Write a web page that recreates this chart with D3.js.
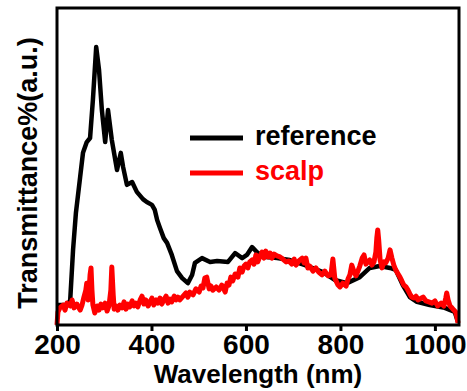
<!DOCTYPE html>
<html>
<head>
<meta charset="utf-8">
<script src="https://cdn.jsdelivr.net/npm/d3@7"></script>
<style>
  body { margin: 0; background: #fff; }
  svg text { font-family: "Liberation Sans", Arial, sans-serif; font-weight: bold; }
</style>
</head>
<body>
<div id="chart"></div>
<script>
// reference spectrum (nm, a.u.)
const refWave = [200, 223, 228, 234, 240, 249, 255, 263, 270, 276, 283, 289, 295, 302, 308, 316, 327, 335, 340, 348,
  359, 369, 382, 390, 401, 407, 412, 418, 426, 433, 443, 454, 465, 477, 486, 492, 507, 524, 539, 562,
  577, 592, 602, 613, 623, 636, 666, 693, 725, 763, 788, 814, 841, 862, 883, 905, 917, 932, 947, 962,
  989, 1021, 1042, 1049];
const refVal = [6.3, 6.3, 7.9, 23.7, 35.3, 46.7, 54.3, 57.7, 59.0, 71.0, 87.7, 80.4, 67.8, 57.7, 67.8, 58.4, 48.9, 54.3, 49.8, 44.2,
  45.1, 42.0, 39.7, 38.8, 37.9, 36.3, 33.1, 30.6, 27.4, 25.9, 22.1, 17.0, 14.8, 13.2, 15.8, 19.6, 21.1, 19.9, 20.2, 19.9,
  22.7, 21.1, 22.1, 24.6, 23.0, 21.5, 21.1, 20.5, 18.9, 16.7, 14.2, 13.2, 15.1, 18.0, 18.6, 18.0, 17.4, 12.6, 8.8, 7.3,
  6.3, 5.4, 4.1, 0.9];

// scalp spectrum (nm, a.u.)
const scalpWave = [200, 202, 206, 213, 217, 221, 228, 232, 236, 242, 249, 253, 257, 261, 263, 266, 268, 270, 272, 274,
  276, 280, 285, 289, 293, 297, 302, 306, 310, 314, 316, 319, 321, 325, 329, 333, 338, 342, 346, 350,
  354, 359, 363, 367, 371, 376, 380, 384, 388, 393, 397, 401, 405, 410, 414, 418, 422, 426, 431, 435,
  439, 443, 448, 452, 456, 460, 467, 473, 477, 481, 488, 494, 501, 505, 509, 513, 517, 522, 526, 530,
  537, 543, 549, 556, 560, 564, 568, 572, 577, 583, 587, 592, 596, 600, 604, 608, 613, 617, 621, 625,
  630, 634, 638, 642, 647, 651, 655, 659, 666, 672, 678, 685, 691, 697, 702, 706, 712, 719, 723, 727,
  731, 735, 742, 748, 754, 761, 767, 774, 780, 784, 788, 795, 799, 805, 812, 816, 820, 824, 829, 833,
  837, 841, 846, 850, 854, 858, 862, 867, 871, 875, 877, 879, 881, 884, 888, 892, 896, 901, 905, 909,
  913, 917, 922, 926, 930, 934, 939, 943, 947, 951, 956, 960, 964, 968, 975, 981, 987, 994, 1000, 1006,
  1013, 1019, 1023, 1025, 1028, 1032, 1036, 1040, 1044, 1047, 1049];
const scalpVal = [0, 4.1, 5.4, 6.3, 4.7, 6.9, 6.0, 7.9, 5.4, 6.6, 4.7, 6.3, 8.8, 11.0, 13.2, 7.9, 11.0, 15.8, 18.0, 11.0,
  6.3, 3.8, 6.0, 4.7, 6.6, 5.4, 6.9, 4.4, 6.0, 11.0, 18.3, 9.5, 5.0, 6.0, 4.7, 6.3, 5.4, 7.3, 5.0, 6.6,
  5.7, 7.6, 6.0, 6.9, 5.7, 7.9, 9.1, 6.6, 7.9, 6.0, 7.3, 8.5, 6.3, 7.9, 6.9, 8.5, 6.6, 7.9, 9.1, 6.9,
  8.2, 7.3, 9.1, 7.9, 8.8, 7.9, 9.1, 10.1, 8.8, 10.4, 9.5, 11.4, 10.4, 12.3, 11.7, 14.8, 15.1, 11.4, 12.3, 11.0,
  12.0, 11.0, 12.6, 10.4, 13.2, 12.6, 15.1, 13.9, 16.1, 15.1, 18.0, 16.7, 18.6, 19.2, 18.0, 19.9, 20.5, 19.2, 22.1, 19.9,
  21.8, 23.0, 21.1, 23.3, 21.5, 22.7, 21.1, 22.4, 21.8, 21.5, 20.8, 19.9, 20.2, 19.2, 20.8, 18.9, 20.2, 21.1, 19.6, 21.1,
  18.0, 18.6, 17.0, 18.0, 16.7, 15.8, 17.0, 15.5, 15.8, 20.8, 14.8, 12.6, 12.0, 13.2, 12.3, 14.5, 15.8, 18.9, 16.7, 15.5,
  17.0, 18.6, 21.1, 22.1, 19.2, 19.9, 20.5, 18.9, 19.9, 23.0, 27.4, 30.0, 26.8, 20.5, 18.0, 19.9, 19.6, 21.1, 23.7, 21.1,
  18.9, 17.4, 16.1, 15.1, 13.9, 12.6, 12.0, 11.0, 9.8, 8.8, 8.5, 9.1, 7.9, 8.2, 8.8, 7.6, 7.3, 6.9, 7.6, 6.0,
  6.9, 6.0, 8.5, 10.1, 7.9, 6.0, 5.4, 4.7, 4.1, 2.2, 0.6];

const xTicks = [200, 400, 600, 800, 1000];
const legendNames = ["reference", "scalp"];
const colors = ["#000000", "#ff0000"];

const width = 467, height = 391;
const margin = { top: 8, right: 8, bottom: 66, left: 57 };

const svg = d3.select("#chart").append("svg")
  .attr("width", width)
  .attr("height", height);

const x = d3.scaleLinear([200, 1051], [margin.left, width - margin.right]);
const y = d3.scaleLinear([0, 100], [height - margin.bottom, margin.top]);

const line = d3.line()
  .x(d => x(d[0]))
  .y(d => y(d[1]));

const series = [
  d3.zip(refWave, refVal),
  d3.zip(scalpWave, scalpVal)
];

svg.selectAll("path.spec")
  .data(series)
  .enter().append("path")
  .attr("class", "spec")
  .attr("d", line)
  .attr("fill", "none")
  .attr("stroke", (d, i) => colors[i])
  .attr("stroke-width", (d, i) => i ? 5 : 4.5)
  .attr("stroke-linejoin", "round");

// frame
svg.append("rect")
  .attr("x", margin.left)
  .attr("y", margin.top)
  .attr("width", width - margin.left - margin.right)
  .attr("height", height - margin.top - margin.bottom)
  .attr("fill", "none")
  .attr("stroke", "#000")
  .attr("stroke-width", 3);

const xAxis = d3.axisBottom(x)
  .tickValues(xTicks)
  .tickFormat(d3.format("d"))
  .tickSize(6)
  .tickSizeOuter(0)
  .tickPadding(3);

const gX = svg.append("g")
  .attr("transform", `translate(0, ${height - margin.bottom})`)
  .call(xAxis);
gX.select(".domain").remove();
gX.selectAll(".tick line").attr("stroke-width", 3);
gX.selectAll(".tick text")
  .attr("font-size", 28)
  .attr("fill", "#000");

svg.append("text")
  .attr("x", 258)
  .attr("y", 383)
  .attr("text-anchor", "middle")
  .attr("font-size", 26)
  .text("Wavelength (nm)");

svg.append("text")
  .attr("transform", "translate(37, 173) rotate(-90)")
  .attr("text-anchor", "middle")
  .attr("font-size", 27)
  .text("Transmittance%(a.u.)");

// legend
const legend = svg.selectAll("g.legend")
  .data(legendNames)
  .enter().append("g")
  .attr("class", "legend")
  .attr("transform", (d, i) => `translate(190, ${138 + i * 35})`);

legend.append("line")
  .attr("x1", 0).attr("x2", 53)
  .attr("stroke", (d, i) => colors[i])
  .attr("stroke-width", 5);

legend.append("text")
  .attr("x", 65)
  .attr("y", 7)
  .attr("font-size", 27)
  .attr("fill", (d, i) => colors[i])
  .text(d => d);
</script>
</body>
</html>
